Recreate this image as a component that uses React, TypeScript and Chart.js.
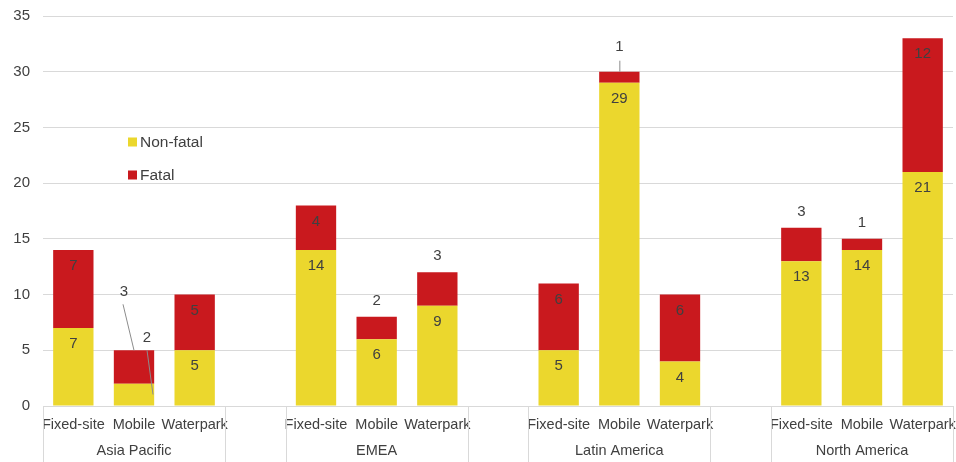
import React, { useEffect, useRef } from 'react';
import { Chart, registerables } from 'chart.js';

Chart.register(...registerables);

// ---- Data ----
const regions = ['Asia Pacific', 'EMEA', 'Latin America', 'North America'];
const parkTypes = ['Fixed-site', 'Mobile', 'Waterpark'];
const nonFatal = [7, 2, 5, 14, 6, 9, 5, 29, 4, 13, 14, 21];
const fatal = [7, 3, 5, 4, 2, 3, 6, 1, 6, 3, 1, 12];
const yTicks = [0, 5, 10, 15, 20, 25, 30, 35];
const seriesNames = ['Non-fatal', 'Fatal'];

// ---- Styles ----
const COLORS = ['#EBD72D', '#C9191E'];
const TEXT = '#404040';
const GRID = '#D9D9D9';
const FONT = '"Liberation Sans", Arial, sans-serif';
const W = 956;
const H = 462;

// Build slots: 3 park types per region, a blank slot between regions
type Slot = { label: string; group: number; src: number };
const slots: Slot[] = [];
regions.forEach((r, gi) => {
  parkTypes.forEach((t, ti) => slots.push({ label: t, group: gi, src: gi * parkTypes.length + ti }));
  if (gi < regions.length - 1) slots.push({ label: '', group: -1, src: -1 });
});

const labels = slots.map((s) => s.label);
const nfData = slots.map((s) => (s.src >= 0 ? nonFatal[s.src] : null));
const fData = slots.map((s) => (s.src >= 0 ? fatal[s.src] : null));

// Labels moved out with leader lines in the source chart (region/type keys)
const calloutKeys = ['Asia Pacific/Mobile', 'Latin America/Mobile'];

const overlayPlugin = {
  id: 'overlay',
  afterDatasetsDraw(chart: any) {
    const ctx = chart.ctx as CanvasRenderingContext2D;
    const xs = chart.scales.x;
    const area = chart.chartArea;
    const slotW = xs.width / labels.length;
    ctx.save();

    // category labels (level 1)
    ctx.fillStyle = TEXT;
    ctx.textAlign = 'center';
    ctx.textBaseline = 'middle';
    ctx.font = `14.5px ${FONT}`;
    slots.forEach((s, i) => {
      if (s.label) ctx.fillText(s.label, xs.getPixelForValue(i), area.bottom + 19);
    });

    // group labels (level 2) and separators
    ctx.strokeStyle = GRID;
    ctx.lineWidth = 1;
    regions.forEach((r, gi) => {
      const idx = slots.map((s, i) => (s.group === gi ? i : -1)).filter((i) => i >= 0);
      const first = idx[0];
      const last = idx[idx.length - 1];
      const left = xs.getPixelForValue(first) - slotW / 2;
      const right = xs.getPixelForValue(last) + slotW / 2;
      ctx.font = `14.5px ${FONT}`;
      ctx.fillText(r, (left + right) / 2, area.bottom + 45);
      [left, right].forEach((px) => {
        const x = Math.round(px) + 0.5;
        ctx.beginPath();
        ctx.moveTo(x, area.bottom);
        ctx.lineTo(x, H);
        ctx.stroke();
      });
    });

    // data labels
    ctx.font = `15px ${FONT}`;
    ctx.fillStyle = TEXT;
    const nfMeta = chart.getDatasetMeta(0);
    const fMeta = chart.getDatasetMeta(1);
    const line = (x1: number, y1: number, x2: number, y2: number) => {
      ctx.strokeStyle = '#8C8C8C';
      ctx.lineWidth = 1;
      ctx.beginPath();
      ctx.moveTo(x1, y1);
      ctx.lineTo(x2, y2);
      ctx.stroke();
    };
    slots.forEach((s, i) => {
      if (s.src < 0) return;
      const nfBar = nfMeta.data[i];
      const fBar = fMeta.data[i];
      const nv = nonFatal[s.src];
      const fv = fatal[s.src];
      const key = `${regions[s.group]}/${s.label}`;
      const cx = nfBar.x;
      const top = fBar.y;
      const base = nfBar.base;
      if (calloutKeys.includes(key) && nv <= 3) {
        // both segments small: both labels outside with leaders
        ctx.fillText(String(nv), cx + 13, top - 12);
        line(cx + 13, top, cx + 19, base - 11);
        ctx.fillText(String(fv), cx - 10, top - 58);
        line(cx - 11, top - 46, cx, top);
        return;
      }
      ctx.fillText(String(nv), cx, nfBar.y + 16);
      if (calloutKeys.includes(key)) {
        ctx.fillText(String(fv), cx, top - 25);
        line(cx + 0.5, top - 11, cx + 0.5, top);
      } else if (fv <= 3) {
        ctx.fillText(String(fv), cx, top - 16);
      } else {
        ctx.fillText(String(fv), cx, top + 16);
      }
    });

    // legend
    ctx.textAlign = 'left';
    ctx.font = `15.5px ${FONT}`;
    const legendY = [142, 175];
    seriesNames.forEach((n, k) => {
      ctx.fillStyle = COLORS[k];
      ctx.fillRect(128, legendY[k] - 4.5, 9, 9);
      ctx.fillStyle = TEXT;
      ctx.fillText(n, 140, legendY[k] + 1);
    });

    ctx.restore();
  },
};

export default function App() {
  const ref = useRef<HTMLCanvasElement | null>(null);

  useEffect(() => {
    if (!ref.current) return;
    document.body.style.margin = '0';
    Chart.defaults.font.family = FONT;
    const chart = new Chart(ref.current, {
      type: 'bar',
      data: {
        labels,
        datasets: [
          {
            label: seriesNames[0],
            data: nfData as any,
            backgroundColor: COLORS[0],
            categoryPercentage: 1,
            barPercentage: 0.665,
          },
          {
            label: seriesNames[1],
            data: fData as any,
            backgroundColor: COLORS[1],
            categoryPercentage: 1,
            barPercentage: 0.665,
          },
        ],
      },
      options: {
        responsive: false,
        animation: false,
        events: [],
        layout: { padding: { top: 16, right: 3, left: 0, bottom: 0 } },
        plugins: { legend: { display: false }, tooltip: { enabled: false } },
        scales: {
          x: {
            stacked: true,
            grid: { display: false },
            ticks: { display: false },
            border: { display: true, color: GRID },
            afterFit: (s: any) => {
              s.height = 56;
              s.paddingLeft = 0;
              s.paddingRight = 0;
            },
          },
          y: {
            stacked: true,
            min: yTicks[0],
            max: yTicks[yTicks.length - 1],
            afterBuildTicks: (s: any) => {
              s.ticks = yTicks.map((v) => ({ value: v }));
            },
            ticks: { color: TEXT, font: { size: 15, family: FONT }, padding: 13 },
            grid: { color: GRID, drawTicks: false },
            border: { display: false },
            afterFit: (s: any) => {
              s.width = 43;
              s.paddingTop = 0;
              s.paddingBottom = 0;
            },
          },
        },
      },
      plugins: [overlayPlugin],
    });
    return () => chart.destroy();
  }, []);

  return (
    <div style={{ position: 'fixed', left: 0, top: 0, width: W, height: H, background: '#fff' }}>
      <canvas ref={ref} width={W} height={H} style={{ width: W, height: H }} />
    </div>
  );
}
